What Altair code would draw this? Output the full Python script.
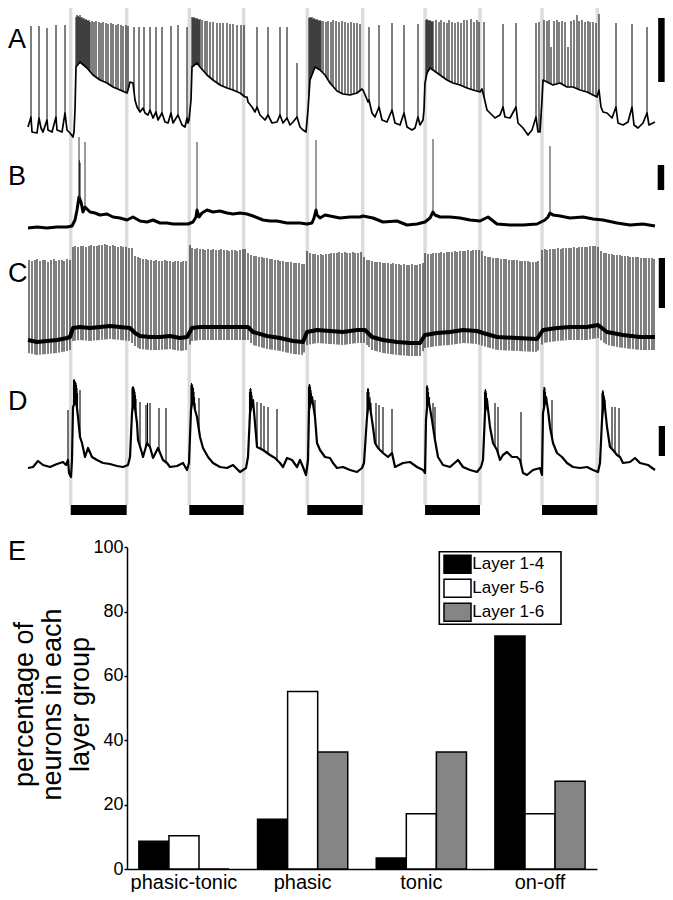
import altair as alt
import numpy as np
import pandas as pd

# ---------------- recording data (sample index @ DT s, membrane potential mV) -------------
DT = 0.085          # s per sample
N_SAMPLES = 627

stim_on = [3.63, 13.71, 23.74, 33.75, 43.69]     # s
stim_off = [8.39, 18.33, 28.45, 38.42, 48.39]    # s

# Trace A
a_base_i = [0, 3, 4, 9, 11, 13, 15, 19, 20, 24, 28, 29, 34, 37, 39, 42, 45, 46,
            47, 48, 52, 59, 65, 72, 79, 85, 92, 99, 100, 102, 105, 107, 109, 112, 115, 117,
            120, 122, 125, 128, 130, 134, 137, 140, 143, 145, 150, 154, 157, 159, 160, 161,
            163, 164, 169, 172, 179, 185, 192, 199, 205, 212, 217, 219, 220, 224, 227, 229,
            232, 237, 240, 244, 249, 252, 255, 259, 262, 265, 269, 272, 275, 278,
            280, 282, 287, 292, 297, 302, 309, 315, 322, 329, 334, 335, 338, 340, 341, 344,
            347, 351, 354, 359, 364, 367, 372, 376, 379, 384, 387, 390, 392, 395, 396,
            397, 399, 402, 405, 412, 419, 425, 432, 439, 445, 452, 454, 456, 459, 462, 467,
            472, 475, 477, 482, 488, 490, 495, 500, 504, 508, 510, 512,
            514, 515, 519, 525, 532, 539, 545, 552, 559, 565, 569, 571, 573, 575, 579, 584,
            588, 590, 595, 600, 604, 606, 610, 615, 619, 621, 627]
a_base_v = [-65, -55, -70, -71, -56, -66, -70, -58, -68, -70, -55, -68, -70, -51, -68, -71, -75, -70,
            -48, -5, 0, -6, -13, -18, -21, -25, -28, -31, -28, -20, -21, -38, -45, -50, -46, -51,
            -53, -48, -56, -50, -58, -51, -60, -61, -51, -61, -53, -63, -65, -56, -61, -58,
            -38, -5, -1, -5, -13, -18, -23, -26, -28, -31, -35, -35, -40, -45, -50, -45,
            -53, -58, -53, -61, -60, -53, -61, -56, -63, -60, -55, -65, -68, -70,
            -48, -18, -5, -8, -13, -21, -29, -32, -33, -31, -27, -28, -35, -40, -38, -51,
            -55, -45, -58, -60, -48, -61, -63, -51, -65, -68, -66, -55, -63, -58, -48,
            -21, -11, -6, -8, -13, -18, -21, -23, -26, -28, -30, -27, -35, -48, -51, -56,
            -53, -45, -55, -56, -45, -61, -66, -73, -68, -55, -70, -70,
            -38, -18, -20, -23, -21, -25, -25, -28, -30, -33, -35, -28, -45, -50, -51, -56,
            -45, -61, -63, -60, -45, -63, -66, -61, -51, -63, -60]
a_spk_i = [3, 11, 19, 28, 37,
           48, 49, 50, 51, 52, 53, 54, 55, 56, 57, 58, 59, 60, 61, 62,
           64, 66, 68, 71, 73, 75, 78, 80, 83, 85, 88, 90, 93, 95, 98, 100,
           106, 111, 116, 122, 128, 134, 143, 150, 159,
           164, 165, 166, 167, 168, 169, 170, 171, 172,
           174, 177, 179, 182, 185, 189, 192, 195, 199, 202, 205, 209, 213, 216,
           229, 240, 252, 259, 269,
           281, 282, 283, 284, 285, 286, 287, 288, 289, 290, 291, 292, 293,
           295, 298, 300, 303, 305, 308, 311, 314, 317, 320, 323, 326, 329, 332,
           341, 351, 364, 376, 390,
           398, 399, 400, 401, 402, 403, 404, 405,
           408, 411, 413, 416, 419, 421, 424, 427, 430, 433, 436, 439, 443, 446, 449, 451,
           456, 475, 488, 508, 511,
           516, 519, 521, 523, 526, 529, 531, 534, 537, 540, 543, 546, 549, 551, 554, 557,
           560, 562, 565, 568, 571,
           588, 604, 619]
a_spk_v = [36, 36, 34, 37, 37,
           45, 47, 46, 45, 47, 44, 45, 43, 44, 42, 43, 42, 41, 42, 40,
           41, 40, 41, 40, 39, 40, 39, 38, 39, 38, 37, 38, 37, 36, 37, 36,
           35, 35, 35, 35, 35, 35, 36, 37, 35,
           45, 44, 45, 44, 43, 44, 43, 42, 43,
           42, 41, 41, 40, 40, 39, 39, 39, 39, 38, 38, 37, 37, 37,
           35, 35, 35, 35, -1,
           44, 45, 44, 45, 43, 44, 43, 42, 43, 42, 41, 42, 41,
           41, 40, 41, 40, 42, 41, 40, 41, 40, 39, 40, 39, 39, 38,
           35, 37, 39, 37, 38,
           42, 43, 42, 41, 42, 41, 40, 41,
           42, 40, 42, 40, 39, 42, 40, 39, 40, 39, 42, 42, 43, 40, 42, 40,
           40, 38, 39, 39, 40,
           42, 41, 42, 15, 41, 42, 40, 41, 40, 15, 41, 42, 47, 41, 42, 40,
           41, 40, 40, 39, 48,
           39, 38, 35]

# Trace B
b_base_i = [0, 9, 19, 29, 39, 44, 47, 49, 51, 53, 55, 57, 59, 62, 67, 72, 79, 85, 92, 99,
            105, 112, 119, 125, 132, 139, 145, 152, 160, 165, 168, 169, 171, 174, 179, 185,
            192, 199, 205, 212, 219, 225, 235, 242, 249, 259, 265, 272, 279, 284, 286, 288,
            289, 292, 297, 302, 312, 322, 332, 335, 345, 355, 369, 379, 389, 397, 402, 405,
            407, 412, 422, 432, 442, 452, 460, 469, 482, 495, 509, 517, 520, 522, 525, 532,
            542, 555, 565, 575, 589, 602, 615, 627]
b_base_v = [-70, -69, -70, -69, -69, -68, -62, -52, -39, -44, -54, -49, -51, -54, -55, -57, -56, -59, -60, -62,
            -59, -63, -64, -62, -65, -65, -66, -66, -66, -64, -59, -52, -59, -55, -52, -54,
            -53, -55, -56, -55, -56, -58, -62, -63, -63, -65, -65, -65, -66, -65, -60, -52,
            -57, -60, -57, -58, -60, -59, -59, -58, -60, -64, -63, -67, -66, -64, -60, -54,
            -57, -59, -59, -60, -62, -63, -59, -66, -67, -67, -66, -62, -59, -55, -57, -58,
            -60, -59, -61, -62, -65, -67, -66, -68]
b_spk_i = [51, 51.3, 51.7, 52, 57, 169, 288, 405, 522]
b_spk_v = [21, -2, -4, -5, 16, 16, 18, 19, 12]

# Trace C
c_base_i = [0, 9, 19, 29, 39, 42, 45, 52, 62, 72, 82, 92, 102, 107, 112, 122, 132, 142, 152, 159,
            164, 172, 185, 199, 212, 220, 225, 239, 252, 265, 275, 279, 289, 302, 315, 329,
            337, 344, 355, 369, 382, 392, 397, 409, 422, 435, 449, 455, 469, 489, 509, 515,
            529, 542, 559, 570, 579, 595, 612, 627]
c_base_v = [-75, -77, -76, -75, -73, -72, -63, -62, -63, -62, -61, -62, -63, -68, -71, -72, -72, -71, -73, -72,
            -63, -62, -62, -62, -62, -62, -67, -71, -73, -76, -77, -67, -65, -66, -67, -65,
            -65, -72, -75, -77, -78, -78, -70, -68, -67, -65, -66, -68, -72, -73, -74, -65,
            -63, -62, -62, -60, -67, -70, -72, -72]
c_ahp = 13   # mV, spike undershoot below the baseline
c_spk_i = [1, 4, 7, 9, 12, 15, 17, 20, 23, 26, 28, 31, 34, 36, 39, 42,
           45, 47, 50, 53, 55, 58, 61, 63, 66, 69, 71, 74, 77, 79, 82, 85, 87, 90, 93, 95, 98, 101, 104,
           107, 110, 112, 115, 118, 120, 123, 126, 128, 131, 134, 137, 139, 142, 145, 147, 150, 153, 155, 158,
           162, 164, 167, 169, 172, 175, 177, 180, 183, 185, 188, 191, 193, 196, 199, 201, 204, 207, 209, 212, 215, 217,
           220, 223, 226, 228, 231, 234, 236, 239, 242, 244, 247, 250, 252, 255, 258, 260, 263, 266, 268, 271, 274, 276,
           279, 282, 285, 287, 290, 293, 295, 298, 301, 303, 306, 309, 311, 314, 317, 319, 322, 325, 327, 330, 333,
           336, 339, 341, 344, 347, 349, 352, 355, 357, 360, 363, 365, 368, 371, 373, 376, 379, 381, 384, 387, 389, 392, 395,
           397, 400, 403, 405, 408, 411, 413, 416, 419, 421, 424, 427, 429, 432, 435, 437, 440, 443, 445, 448, 451,
           454, 457, 460, 462, 465, 468, 470, 473, 476, 478, 481, 484, 486, 489, 492, 494, 497, 500, 502, 505, 508, 510,
           514, 517, 519, 522, 525, 527, 530, 533, 535, 538, 541, 543, 546, 549, 551, 554, 557, 559, 562, 565, 567,
           570, 573, 576, 578, 581, 584, 586, 589, 592, 594, 597, 600, 602, 605, 608, 610, 613, 616, 618, 621, 624, 626]
c_spk_v = [5, 4, 5, 6, 4, 5, 5, 3, 5, 6, 4, 5, 5, 4, 6, 5,
           18, 19, 18, 19, 19, 18, 19, 20, 19, 19, 20, 20, 21, 20, 19, 20, 19, 18, 19, 18, 18, 17, 17,
           9, 8, 7, 6, 6, 5, 5, 4, 5, 4, 4, 5, 4, 4, 3, 4, 4, 3, 4, 4,
           20, 17, 16, 17, 16, 16, 15, 16, 15, 16, 15, 15, 16, 15, 15, 14, 15, 15, 14, 15, 16, 16,
           12, 10, 9, 9, 8, 8, 7, 7, 6, 6, 5, 5, 4, 4, 3, 3, 3, 2, 2, 2, 1, 1,
           14, 12, 11, 11, 10, 11, 10, 11, 11, 12, 12, 12, 13, 12, 13, 12, 12, 13, 12, 12, 13,
           8, 5, 5, 4, 3, 3, 3, 2, 2, 2, 1, 2, 1, 1, 0, 1, 0, 0, 1, 0, 0, 1, 2,
           12, 11, 11, 12, 12, 12, 13, 12, 13, 13, 13, 14, 13, 14, 14, 14, 15, 14, 15, 15, 15,
           14, 9, 8, 8, 7, 7, 7, 6, 6, 6, 5, 5, 5, 5, 4, 4, 4, 4, 3, 3, 3, 4,
           15, 16, 15, 16, 16, 16, 17, 16, 17, 17, 17, 17, 18, 17, 18, 18, 18, 18, 19, 19, 19,
           18, 14, 12, 12, 11, 11, 10, 10, 10, 9, 9, 9, 8, 8, 8, 8, 7, 7, 7, 7, 7, 6]

# Trace D
d_base_i = [0, 5, 10, 15, 22, 29, 35, 38, 40, 41, 43, 44, 45, 48, 50, 52, 54, 57, 60, 64,
            69, 75, 82, 89, 95, 100, 102, 104, 106, 109, 110, 114, 115, 119, 122, 125, 130, 135,
            139, 142, 149, 155, 159, 161, 163, 165, 167, 169, 172, 175, 180, 185, 192, 199, 205,
            212, 218, 220, 222, 225, 227, 229, 235, 242, 247, 252, 255, 259, 264, 269, 272, 275,
            278, 280, 281, 284, 287, 289, 292, 297, 302, 305, 309, 315, 322, 329, 334, 336, 339,
            341, 345, 347, 350, 355, 360, 364, 367, 375, 382, 389, 395, 397, 398, 400, 404, 407,
            410, 415, 422, 430, 435, 442, 449, 453, 455, 457, 459, 462, 465, 469, 472, 475, 479,
            484, 489, 492, 495, 499, 505, 512, 514, 515, 518, 520, 522, 525, 529, 534, 539, 545,
            552, 559, 565, 570, 572, 574, 576, 579, 582, 585, 589, 592, 595, 602, 607, 612, 620, 627]
d_base_v = [-71, -70, -64, -68, -70, -67, -65, -68, -63, -76, -80, -63, -10, -3, -20, -40, -46, -60, -51, -60,
            -63, -66, -67, -69, -70, -68, -60, -16, -3, -26, -43, -56, -60, -46, -50, -61, -51, -63,
            -66, -70, -69, -66, -73, -66, -13, 0, -13, -20, -40, -51, -60, -66, -70, -71, -68,
            -75, -71, -60, -16, -3, -26, -50, -53, -58, -61, -66, -70, -61, -63, -70, -63, -70,
            -78, -63, -13, 0, -20, -46, -53, -60, -61, -66, -71, -70, -73, -75, -71, -66, -20,
            -3, -30, -46, -51, -56, -60, -56, -70, -66, -65, -70, -73, -76, -23, 0, -23, -43,
            -60, -68, -70, -63, -70, -73, -75, -70, -63, -16, -3, -30, -46, -53, -63, -58, -55,
            -60, -60, -63, -76, -78, -73, -71, -78, -16, 0, -13, -30, -46, -56, -60, -66, -70,
            -71, -70, -73, -75, -66, -23, -1, -30, -50, -53, -58, -60, -66, -65, -61, -66, -68, -73]
d_spk_i = [40,
           45.5, 46, 46.5, 47, 47.5, 48, 48.5, 49, 49.5, 52,
           104, 104.5, 105, 105.5, 106, 106.5, 107, 107.5, 108, 112, 118, 119.5, 122, 131, 138,
           163, 163.5, 164, 164.5, 165, 165.5, 166, 166.5, 167, 171,
           221.5, 222, 222.5, 223, 223.5, 224, 224.5, 229, 233, 236, 240, 249,
           280.5, 281, 281.5, 282, 282.5, 283, 283.5, 284.5, 285.5, 287,
           339, 339.5, 340, 340.5, 341, 342, 343, 348, 351, 355, 364,
           398.5, 399, 399.5, 400, 400.5, 401.5, 405, 407,
           456.5, 457, 457.5, 458, 458.5, 459.5, 467, 470, 493,
           515.5, 516, 516.5, 517, 517.5, 518.5, 524,
           574, 574.5, 575, 575.5, 576, 577, 584, 587, 591]
d_spk_v = [-13,
           17, 18, 17, 16, 15, 14, 12, 9, 4, 7,
           9, 10, 11, 10, 9, 7, 5, 2, -2, -5, -8, -6, -6, -11, -11,
           12, 14, 13, 12, 10, 9, 5, 0, -6, -1,
           5, 8, 9, 8, 5, 2, -3, -5, -6, -9, -10, -12,
           10, 12, 13, 12, 10, 7, 4, -1, -6, -3,
           5, 8, 9, 8, 5, 0, -6, -6, -8, -10, -12,
           10, 12, 11, 9, 5, 0, -6, -10,
           5, 7, 8, 6, 4, -1, -6, -10, -15,
           7, 10, 10, 9, 5, 0, -3,
           4, 6, 7, 5, 2, -3, -10, -10, -11]

# calibration bars (s, bottom mV, length mV) for traces A-D
calib_t = [53.84, 53.80, 53.89, 53.89]
calib_bottom = [-20, -32, -43, -59]
calib_len = [64, 25, 50, 30]

# Panel E
categories = ["phasic-tonic", "phasic", "tonic", "on-off"]
groups = ["Layer 1-4", "Layer 5-6", "Layer 1-6"]
pct_layer14 = [8.6, 15.5, 3.4, 72.4]
pct_layer56 = [10.3, 55.2, 17.2, 17.2]
pct_layer16 = [0.0, 36.4, 36.4, 27.3]
group_colors = ["black", "white", "#858585"]

FONT = "Liberation Sans"

# ---------------- layout ----------------
W, H = 657, 884
T_END = N_SAMPLES * DT
xs = alt.Scale(domain=[0, T_END], range=[20, 20 + T_END / DT], nice=False, zero=False)


def ysc(lo, hi, r_lo, r_hi):
    return alt.Scale(domain=[lo, hi], range=[r_lo, r_hi], nice=False, zero=False)


y_scales = {
    "A": ysc(-80, 50, 134, 4),
    "B": ysc(-80, 30, 230, 120),
    "C": ysc(-100, 30, 357, 227),
    "D": ysc(-90, 30, 479, 359),
}

layers = []

# stimulus markers
edges = pd.DataFrame({"t": stim_on + stim_off})
layers.append(
    alt.Chart(edges).mark_rule(color="#dcdcdc", strokeWidth=3.5).encode(
        x=alt.X("t:Q", scale=xs, axis=None), y=alt.value(0), y2=alt.value(497))
)
stim_df = pd.DataFrame({"on": stim_on, "off": stim_off})
layers.append(
    alt.Chart(stim_df).mark_rect(color="black").encode(
        x=alt.X("on:Q", scale=xs, axis=None), x2="off:Q", y=alt.value(497), y2=alt.value(507))
)


def trace(base_i, base_v, spk_i, spk_v, scale, lw, spk_color, spk_w, ahp=0.0, spikes_first=False):
    bt = np.array(base_i, dtype=float) * DT
    base = pd.DataFrame({"t": bt, "v": base_v})
    st = np.array(spk_i, dtype=float) * DT
    foot = np.interp(st, bt, np.array(base_v, dtype=float)) - ahp
    spk = pd.DataFrame({"t": st, "peak": spk_v, "foot": foot})
    line = alt.Chart(base).mark_line(color="black", strokeWidth=lw, strokeJoin="round").encode(
        x=alt.X("t:Q", scale=xs, axis=None), y=alt.Y("v:Q", scale=scale, axis=None))
    rules = alt.Chart(spk).mark_rule(color=spk_color, strokeWidth=spk_w).encode(
        x=alt.X("t:Q", scale=xs, axis=None), y=alt.Y("peak:Q", scale=scale, axis=None), y2="foot:Q")
    return [rules, line] if spikes_first else [line, rules]


layers += trace(a_base_i, a_base_v, a_spk_i, a_spk_v, y_scales["A"], 1.7, "black", 1.0)
layers += trace(b_base_i, b_base_v, b_spk_i, b_spk_v, y_scales["B"], 3.0, "#222", 0.9)
layers += trace(c_base_i, c_base_v, c_spk_i, c_spk_v, y_scales["C"], 4.0, "black", 1.0,
                ahp=c_ahp, spikes_first=True)
layers += trace(d_base_i, d_base_v, d_spk_i, d_spk_v, y_scales["D"], 2.2, "black", 1.1)

# calibration bars
for k, name in enumerate(["A", "B", "C", "D"]):
    cb = pd.DataFrame({"t": [calib_t[k]], "lo": [calib_bottom[k]],
                       "hi": [calib_bottom[k] + calib_len[k]]})
    layers.append(
        alt.Chart(cb).mark_rule(color="black", strokeWidth=6.5).encode(
            x=alt.X("t:Q", scale=xs, axis=None),
            y=alt.Y("lo:Q", scale=y_scales[name], axis=None), y2="hi:Q")
    )

# panel letters
letter_pos = {"A": (0, 40), "B": (0, 177), "C": (0, 274), "D": (0, 402), "E": (0, 552)}
for letter, (lx, ly) in letter_pos.items():
    layers.append(
        alt.Chart(pd.DataFrame({"s": [letter]})).mark_text(
            fontSize=27, font=FONT, align="left", baseline="alphabetic", color="black"
        ).encode(text="s:N", x=alt.value(lx), y=alt.value(ly))
    )

# legend frame for panel E
layers.append(
    alt.Chart(pd.DataFrame({"k": [0]})).mark_rect(fill="white", stroke="black", strokeWidth=1.6).encode(
        x=alt.value(431.3), x2=alt.value(553), y=alt.value(543.7), y2=alt.value(616.3))
)

# panel E bars
rows = []
for g, vals in zip(groups, [pct_layer14, pct_layer56, pct_layer16]):
    for c, v in zip(categories, vals):
        rows.append({"type": c, "group": g, "pct": v})
bar_df = pd.DataFrame(rows)

bars = alt.Chart(bar_df).mark_bar(stroke="black", strokeWidth=1.5).encode(
    x=alt.X("type:N", sort=categories,
            scale=alt.Scale(domain=categories, range=[119, 589], paddingInner=0.24, paddingOuter=0.1),
            axis=alt.Axis(orient="bottom", offset=-23, title=None, labelAngle=0, labelFontSize=20,
                          labelFont=FONT, labelColor="black", labelPadding=3, ticks=False,
                          domainColor="black", domainWidth=1.5, grid=False)),
    xOffset=alt.XOffset("group:N", sort=groups, scale=alt.Scale(domain=groups)),
    y=alt.Y("pct:Q",
            scale=alt.Scale(domain=[0, 100], range=[861, 539.3], nice=False, zero=True),
            axis=alt.Axis(orient="left", offset=-119, values=[0, 20, 40, 60, 80, 100], format="d",
                          grid=False, labelFontSize=18, labelFont=FONT, labelColor="black",
                          labelPadding=1, tickSize=3, tickColor="black", tickWidth=1.5,
                          domainColor="black", domainWidth=1.5,
                          title=["percentage of", "neurons in each", "layer group"],
                          titleFont=FONT, titleFontSize=27, titleFontWeight="normal",
                          titleColor="black", titleLineHeight=28, titleX=-89, titleY=696,
                          titleAngle=270, titleBaseline="bottom", titleAlign="center")),
    fill=alt.Fill("group:N", sort=groups,
                  scale=alt.Scale(domain=groups, range=group_colors),
                  legend=alt.Legend(orient="none", legendX=435, legendY=546.3, title=None,
                                    padding=0, rowPadding=0, labelFontSize=17, labelFont=FONT,
                                    labelColor="black", labelOffset=9.3,
                                    symbolType="M-1,-1L2,-1L2,1L-1,1Z",
                                    symbolSize=324, symbolStrokeColor="black",
                                    symbolStrokeWidth=1.5)),
)
layers.append(bars)

chart = alt.layer(*layers).resolve_scale(x="independent", y="independent").properties(
    width=W, height=H, autosize=alt.AutoSizeParams(type="none"), padding=0,
    background="white",
).configure_view(stroke=None)

chart.save("out.html", embed_options={"renderer": "svg", "actions": False})
